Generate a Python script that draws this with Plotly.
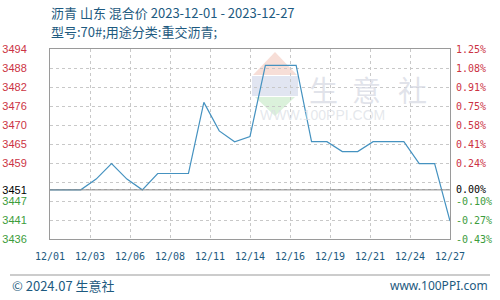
import plotly.graph_objects as go
import pandas as pd

# ---------------- data ----------------
dates = ["2023-12-01", "2023-12-02", "2023-12-03", "2023-12-04", "2023-12-05",
         "2023-12-06", "2023-12-07", "2023-12-08", "2023-12-09", "2023-12-10",
         "2023-12-11", "2023-12-12", "2023-12-13", "2023-12-14", "2023-12-15",
         "2023-12-16", "2023-12-17", "2023-12-18", "2023-12-19", "2023-12-20",
         "2023-12-21", "2023-12-22", "2023-12-23", "2023-12-24", "2023-12-25",
         "2023-12-26", "2023-12-27"]
prices = [3451.0, 3451.0, 3451.0, 3454.3, 3459.0, 3454.3, 3451.0, 3456.0, 3456.0, 3456.0,
          3477.7, 3469.0, 3465.7, 3467.3, 3489.0, 3489.0, 3489.0, 3465.7, 3465.7, 3462.7,
          3462.7, 3465.7, 3465.7, 3465.7, 3459.0, 3459.0, 3441.5]
base_price = 3451.0

x_tick_labels = ["12/01", "12/03", "12/06", "12/08", "12/11", "12/14",
                 "12/16", "12/19", "12/21", "12/24", "12/27"]
y_tick_vals = [3436, 3441.8, 3447.6, 3451, 3453.4, 3459.2, 3465, 3470.8,
               3476.6, 3482.4, 3488.2, 3494]
y_left_labels = ["3436", "3441", "3447", "3451", "", "3459", "3465", "3470",
                 "3476", "3482", "3488", "3494"]
y_right_labels = ["-0.43%", "-0.27%", "-0.10%", "0.00%", "", "0.24%", "0.41%",
                  "0.58%", "0.75%", "0.91%", "1.08%", "1.25%"]

title_text = "沥青 山东 混合价 2023-12-01 - 2023-12-27"
subtitle_text = "型号:70#;用途分类:重交沥青;"

# ---------------- styling helpers ----------------
RED = "#cc3344"
GREEN = "#3c9c3c"
BLACK = "#000000"
NAVY = "#1d5a80"
LINE = "#4592c0"
PLOT_H = 190.0  # plot height in px (for paper-coordinate conversion of decorations)
PLOT_W = 400.0


def colour_for(v):
    if abs(v - base_price) < 1e-6:
        return BLACK
    return RED if v > base_price else GREEN


left_text = [f'<span style="color:{colour_for(v)}">{t}</span>' if t else ""
             for v, t in zip(y_tick_vals, y_left_labels)]
right_text = [f'<span style="color:{colour_for(v)}">{t}</span>' if t else ""
              for v, t in zip(y_tick_vals, y_right_labels)]

xd = pd.to_datetime(dates)
n_ticks = len(x_tick_labels)
span = xd[-1] - xd[0]
x_tick_vals = [xd[0] + span * i / (n_ticks - 1) for i in range(n_ticks)]

fig = go.Figure()
fig.add_trace(go.Scatter(x=xd, y=prices, mode="lines",
                         line=dict(color=LINE, width=1.2),
                         hoverinfo="skip", showlegend=False))
fig.add_trace(go.Scatter(x=xd, y=prices, mode="lines", yaxis="y2",
                         line=dict(color="rgba(0,0,0,0)", width=0),
                         hoverinfo="skip", showlegend=False))

fig.add_hline(y=base_price, line=dict(color="#888888", width=1))


def px(xp):
    return (xp - 50) / PLOT_W


def py(yp):
    return (239 - yp) / PLOT_H


# watermark (decorative)
wm = "rgba(215,218,228,0.75)"
for ch, cx in zip("生意社", [340, 383, 429]):
    fig.add_annotation(xref="paper", yref="paper", x=px(cx), y=py(72), text=ch,
                       showarrow=False, height=30,
                       font=dict(size=29, color=wm, family="Noto Sans CJK SC"))
fig.add_annotation(xref="paper", yref="paper", x=px(387), y=py(106), text="WWW.100PPI.COM",
                   showarrow=False, height=14,
                   font=dict(size=14, color="rgba(220,223,230,0.75)",
                             family="Liberation Sans"))
# logo (decorative)
fig.add_shape(type="path", xref="paper", yref="paper", layer="below",
              path=f"M {px(253)} {py(75)} L {px(275)} {py(52)} L {px(297)} {py(75)} Z",
              fillcolor="rgba(242,200,188,0.6)", line=dict(width=0))
fig.add_shape(type="rect", xref="paper", yref="paper", layer="below",
              x0=px(252), x1=px(298), y0=py(96), y1=py(76),
              fillcolor="rgba(205,212,232,0.6)", line=dict(width=0))
fig.add_shape(type="path", xref="paper", yref="paper", layer="below",
              path=f"M {px(255)} {py(97)} L {px(275)} {py(116)} L {px(295)} {py(97)} Z",
              fillcolor="rgba(195,232,195,0.6)", line=dict(width=0))

fig.update_layout(
    width=500, height=300,
    margin=dict(l=50, r=50, t=49, b=61, autoexpand=False),
    paper_bgcolor="white", plot_bgcolor="white",
    showlegend=False,
    xaxis=dict(
        type="date", automargin=False,
        range=[xd[0], xd[-1]],
        tickmode="array", tickvals=x_tick_vals, ticktext=x_tick_labels,
        tickfont=dict(family="DejaVu Sans Mono", size=10, color=NAVY),
        showgrid=True, gridcolor="#c8c8c8", griddash="dot", gridwidth=1,
        showline=True, linecolor="#9a9a9a", linewidth=1, mirror=True,
        ticks="", ticklabelstandoff=8, zeroline=False,
    ),
    yaxis=dict(
        automargin=False,
        range=[y_tick_vals[0], y_tick_vals[-1]],
        tickmode="array", tickvals=y_tick_vals, ticktext=left_text,
        tickfont=dict(family="Liberation Sans", size=11),
        showgrid=True, gridcolor="#c8c8c8", griddash="dot", gridwidth=1,
        showline=True, linecolor="#9a9a9a", linewidth=1,
        ticks="", ticklabelstandoff=20, zeroline=False,
    ),
    yaxis2=dict(
        overlaying="y", side="right", automargin=False,
        range=[y_tick_vals[0], y_tick_vals[-1]],
        tickmode="array", tickvals=y_tick_vals, ticktext=right_text,
        tickfont=dict(family="DejaVu Sans Mono", size=10),
        showgrid=False,
        showline=True, linecolor="#9a9a9a", linewidth=1,
        ticks="", ticklabelstandoff=3, zeroline=False,
    ),
)

# titles
fig.add_annotation(xref="paper", yref="paper", x=0, y=1, yshift=49 - 12.5,
                   xanchor="left", yanchor="middle", text=title_text, showarrow=False,
                   borderpad=0,
                   font=dict(family="Noto Sans CJK SC", size=13, color=NAVY))
fig.add_annotation(xref="paper", yref="paper", x=0, y=1, yshift=49 - 31.5,
                   xanchor="left", yanchor="middle", text=subtitle_text, showarrow=False,
                   borderpad=0,
                   font=dict(family="Noto Sans CJK SC", size=13, color=NAVY))

# footer
fig.add_shape(type="line", xref="paper", yref="paper",
              x0=px(10), x1=px(490), y0=py(275), y1=py(275),
              line=dict(color="#999999", width=1))
fig.add_annotation(xref="paper", yref="paper", x=px(10), y=py(285),
                   xanchor="left", yanchor="middle", text="© 2024.07 生意社",
                   showarrow=False,
                   font=dict(family="Noto Sans CJK SC", size=13, color=NAVY))
fig.add_annotation(xref="paper", yref="paper", x=px(490), y=py(285),
                   xanchor="right", yanchor="middle", text="www.100PPI.com",
                   showarrow=False,
                   font=dict(family="Noto Sans", size=12, color=NAVY))

fig.write_html("out.html")
